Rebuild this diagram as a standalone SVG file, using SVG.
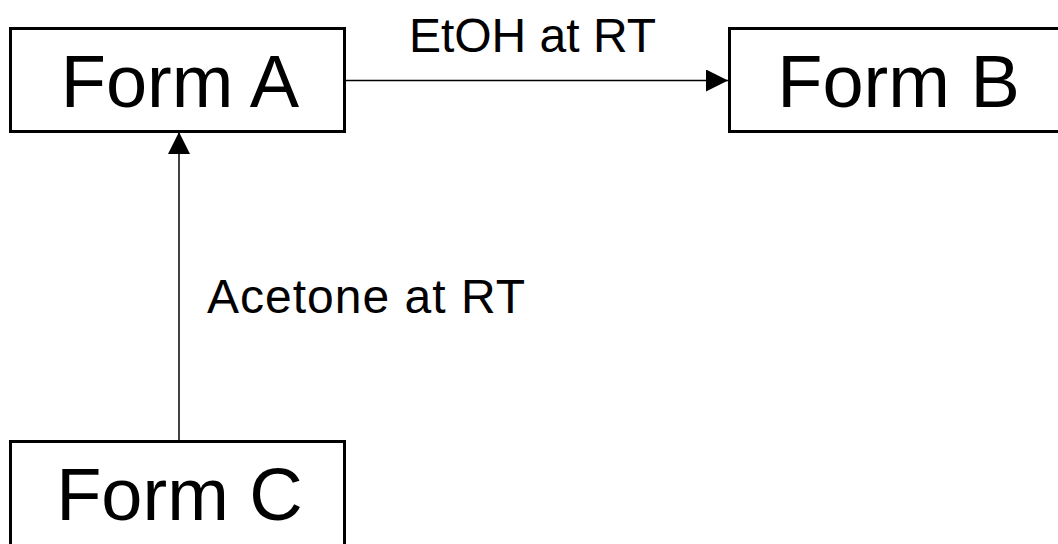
<svg xmlns="http://www.w3.org/2000/svg" width="1058" height="544" viewBox="0 0 1058 544">
  <style>
    .box { fill: #ffffff; stroke: #000000; stroke-width: 3; }
    .big { font-family: "Liberation Sans", Arial, sans-serif; font-size: 74px; fill: #000000; text-anchor: middle; }
    .lbl { font-family: "Liberation Sans", Arial, sans-serif; font-size: 48px; fill: #000000; }
    .conn { stroke: #000000; stroke-width: 1.5; fill: none; }
  </style>
  <defs>
    <marker id="arrow" markerUnits="userSpaceOnUse" markerWidth="24" markerHeight="24" refX="22" refY="11" orient="auto">
      <path d="M0,0 L22,11 L0,22 Z" fill="#000000"/>
    </marker>
  </defs>
  <rect width="1058" height="544" fill="#ffffff"/>
  <g id="connectors">
    <line class="conn" x1="346" y1="80.5" x2="728" y2="80.5" marker-end="url(#arrow)"/>
    <line class="conn" x1="179" y1="440" x2="179" y2="132" marker-end="url(#arrow)"/>
    <text class="lbl" x="532.5" y="52" text-anchor="middle">EtOH at RT</text>
    <text class="lbl" x="207" y="313" textLength="318" lengthAdjust="spacing">Acetone at RT</text>
  </g>
  <g id="formA">
    <rect class="box" x="10.5" y="28.5" width="334" height="103"/>
    <text class="big" x="180" y="106.5">Form A</text>
  </g>
  <g id="formB">
    <rect class="box" x="729.5" y="28.5" width="338" height="103"/>
    <text class="big" x="898.5" y="106.5">Form B</text>
  </g>
  <g id="formC">
    <rect class="box" x="10.5" y="441.5" width="334" height="106"/>
    <text class="big" x="179.5" y="520">Form C</text>
  </g>
</svg>
